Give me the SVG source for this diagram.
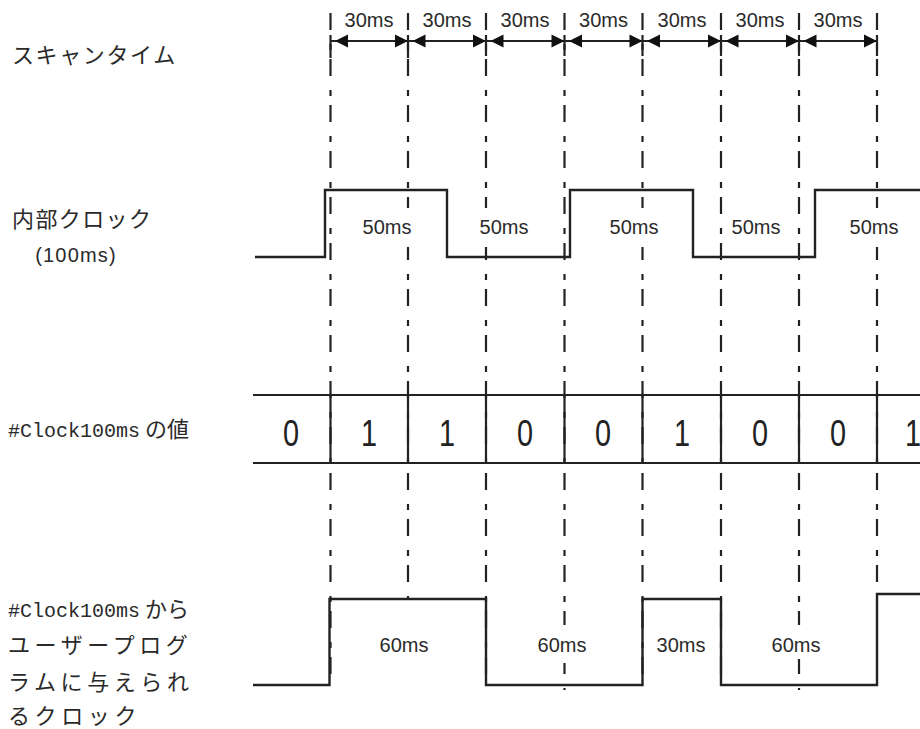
<svg xmlns="http://www.w3.org/2000/svg" width="920" height="729" viewBox="0 0 920 729">
<style>
.dl{stroke:#222;stroke-width:2.2;fill:none;stroke-dasharray:17 14 6 9}
.sl{stroke:#222;stroke-width:2.2;fill:none}
.wv{stroke:#222;stroke-width:2.4;fill:none}
.ah{fill:#111}
.ms{font-family:"Liberation Sans",Arial,sans-serif;font-size:20px;fill:#2a2a2a;text-anchor:middle}
.jp{font-family:"Noto Sans CJK JP","Noto Sans",sans-serif;font-size:22px;fill:#2a2a2a}
.mono{font-family:"Liberation Mono","DejaVu Sans Mono",monospace;font-size:20px}
.dg{font-family:"Liberation Sans",Arial,sans-serif;font-size:37px;fill:#222;text-anchor:middle}
.bg{fill:#fff}
</style>
<rect width="920" height="729" fill="#fff"/>

<g id="connectors">
  <line class="dl" x1="330.5" y1="13" x2="330.5" y2="685"/>
  <line class="dl" x1="408" y1="13" x2="408" y2="600"/>
  <line class="dl" x1="486" y1="13" x2="486" y2="685"/>
  <line class="dl" x1="564.5" y1="13" x2="564.5" y2="690"/>
  <line class="dl" x1="642.5" y1="13" x2="642.5" y2="685"/>
  <line class="dl" x1="721" y1="13" x2="721" y2="685"/>
  <line class="dl" x1="799" y1="13" x2="799" y2="690"/>
  <line class="dl" x1="877" y1="13" x2="877" y2="594"/>
  <path class="sl" d="M330.5,35V58M408,35V58M486,35V56M564.5,35V56M642.5,35V56M721,35V56M799,35V56M877,35V56"/>
  <line class="sl" x1="330.5" y1="41" x2="877" y2="41"/>
  <g id="arrowheads">
    <polygon class="ah" points="335,41 348,34.5 348,47.5"/>
    <polygon class="ah" points="408,41 395,34.5 395,47.5"/>
    <polygon class="ah" points="412.5,41 425.5,34.5 425.5,47.5"/>
    <polygon class="ah" points="486,41 473,34.5 473,47.5"/>
    <polygon class="ah" points="490.5,41 503.5,34.5 503.5,47.5"/>
    <polygon class="ah" points="564.5,41 551.5,34.5 551.5,47.5"/>
    <polygon class="ah" points="569,41 582,34.5 582,47.5"/>
    <polygon class="ah" points="642.5,41 629.5,34.5 629.5,47.5"/>
    <polygon class="ah" points="647,41 660,34.5 660,47.5"/>
    <polygon class="ah" points="721,41 708,34.5 708,47.5"/>
    <polygon class="ah" points="725.5,41 738.5,34.5 738.5,47.5"/>
    <polygon class="ah" points="799,41 786,34.5 786,47.5"/>
    <polygon class="ah" points="803.5,41 816.5,34.5 816.5,47.5"/>
    <polygon class="ah" points="877,41 864,34.5 864,47.5"/>
  </g>
</g>

<g id="scan-labels">
  <text class="ms" x="369" y="27">30ms</text>
  <text class="ms" x="447" y="27">30ms</text>
  <text class="ms" x="525" y="27">30ms</text>
  <text class="ms" x="603.5" y="27">30ms</text>
  <text class="ms" x="682" y="27">30ms</text>
  <text class="ms" x="760" y="27">30ms</text>
  <text class="ms" x="838" y="27">30ms</text>
</g>

<g id="internal-clock">
  <path class="wv" d="M255,257H325V190H447V257H570V190H693V257H815V190H920"/>
  <rect class="bg" x="362" y="208" width="52" height="39"/>
  <rect class="bg" x="478" y="208" width="52" height="39"/>
  <rect class="bg" x="608" y="208" width="52" height="39"/>
  <rect class="bg" x="848" y="208" width="52" height="39"/>
  <text class="ms" x="387" y="234">50ms</text>
  <text class="ms" x="504" y="234">50ms</text>
  <text class="ms" x="634" y="234">50ms</text>
  <text class="ms" x="756" y="234">50ms</text>
  <text class="ms" x="874" y="234">50ms</text>
</g>

<g id="clock-value">
  <path class="sl" d="M253,395H920M253,463H920"/>
  <path class="sl" d="M330.5,395V463M408,395V463M486,395V463M564.5,395V463M642.5,395V463M721,395V463M799,395V463M877,395V463"/>
  <text class="dg" transform="translate(291,446) scale(0.78,1)">0</text>
  <text class="dg" transform="translate(369,446) scale(0.78,1)">1</text>
  <text class="dg" transform="translate(447,446) scale(0.78,1)">1</text>
  <text class="dg" transform="translate(525,446) scale(0.78,1)">0</text>
  <text class="dg" transform="translate(603,446) scale(0.78,1)">0</text>
  <text class="dg" transform="translate(682,446) scale(0.78,1)">1</text>
  <text class="dg" transform="translate(760,446) scale(0.78,1)">0</text>
  <text class="dg" transform="translate(838,446) scale(0.78,1)">0</text>
  <text class="dg" transform="translate(913,446) scale(0.78,1)">1</text>
</g>

<g id="user-clock">
  <path class="wv" d="M253,685H329.5V599H486V685H642.5V599H721V685H877V594H920"/>
  <rect class="bg" x="537" y="625" width="52" height="38"/>
  <rect class="bg" x="771" y="625" width="52" height="34"/>
  <text class="ms" x="404" y="652">60ms</text>
  <text class="ms" x="562" y="652">60ms</text>
  <text class="ms" x="681" y="652">30ms</text>
  <text class="ms" x="796" y="652">60ms</text>
</g>

<g id="row-labels">
  <text class="jp" x="12" y="63" letter-spacing="1.6">スキャンタイム</text>
  <text class="jp" x="12" y="227" letter-spacing="1.4">内部クロック</text>
  <text class="ms" x="76" y="262" letter-spacing="1.2">(100ms)</text>
  <text class="jp" x="8" y="437"><tspan class="mono">#Clock100ms</tspan> の値</text>
  <text class="jp" x="8" y="617"><tspan class="mono">#Clock100ms</tspan> から</text>
  <text class="jp" x="8" y="653" letter-spacing="4.6">ユーザープログ</text>
  <text class="jp" x="8" y="690" letter-spacing="4.6">ラムに与えられ</text>
  <text class="jp" x="8" y="724" letter-spacing="4.6">るクロック</text>
</g>
</svg>
